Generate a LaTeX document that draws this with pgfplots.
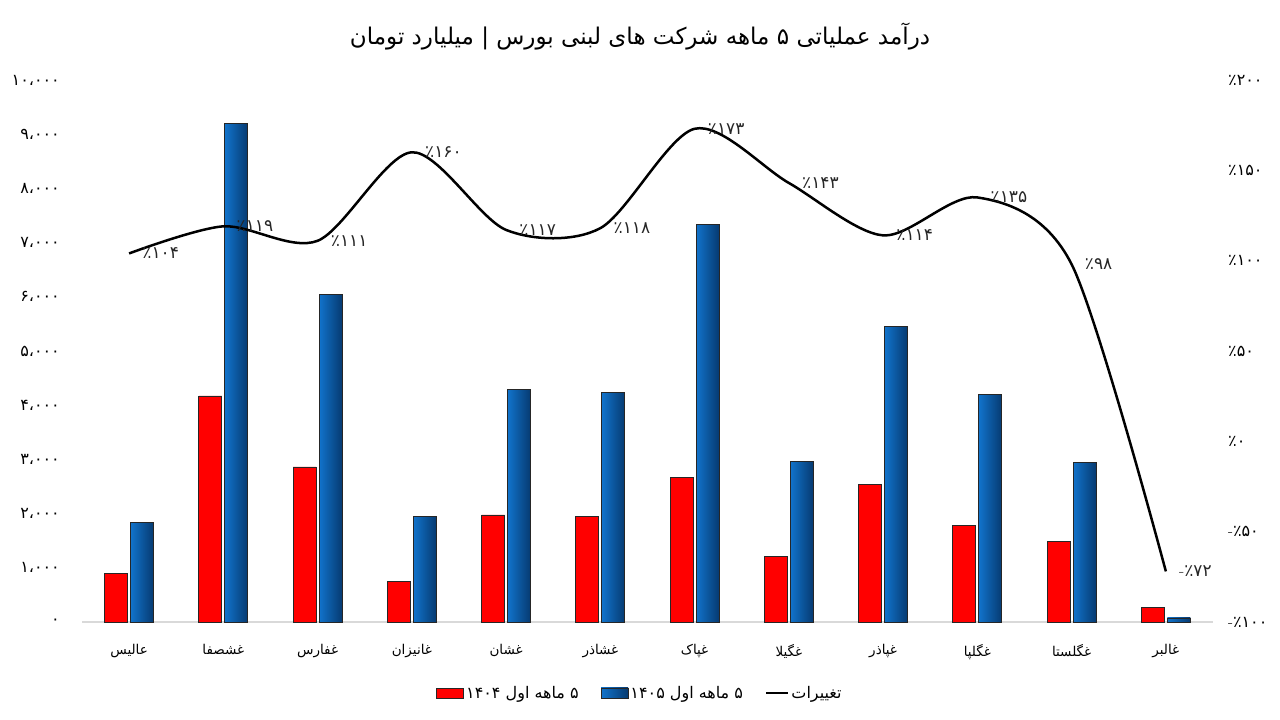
\documentclass[border=0pt]{standalone}
\usepackage{fontspec}
\usepackage{pgfplots}
\pgfplotsset{compat=1.18}
\TeXXeTstate=1
\newfontfamily\fa[Script=Arabic]{DejaVu Sans}
\definecolor{barred}{HTML}{FF0000}
\definecolor{blueL}{HTML}{1173CC}
\definecolor{blueD}{HTML}{063A70}
\definecolor{axgray}{HTML}{D9D9D9}
\pgfplotsset{bluebar/.style={forget plot, bar shift=13pt, left color=blueL, right color=blueD, draw=black!85, line width=0.8pt}}

\begin{document}
\begin{tikzpicture}
\path[use as bounding box] (0pt,0pt) rectangle (1280pt,720pt);

\node[font=\fa\fontsize{23}{26}\selectfont] at (640pt,683pt)
  {\beginR درآمد عملیاتی ۵ ماهه شرکت های لبنی بورس | میلیارد تومان\endR};

% bars, left axis
\begin{axis}[
    at={(82pt,98pt)}, anchor=south west,
    scale only axis,
    width=1131pt, height=542pt,
    xmin=-0.5, xmax=11.5,
    ymin=0, ymax=10000,
    scaled y ticks=false,
    axis x line*=bottom,
    axis y line*=left,
    x axis line style={axgray, line width=1.5pt},
    y axis line style={draw=none},
    major tick length=0pt,
    xtick={0,...,11},
    xticklabels={عالیس, غشصفا, غفارس, غانیزان, غشان, غشاذر, غپاک, غگیلا, غپاذر, غگلپا, غگلستا, غالبر},
    xticklabel style={font=\fa\fontsize{13.5}{16}\selectfont, anchor=north, inner sep=0pt, yshift=-22pt},
    ytick={0,1000,...,10000},
    yticklabels={۰, ۱،۰۰۰, ۲،۰۰۰, ۳،۰۰۰, ۴،۰۰۰, ۵،۰۰۰, ۶،۰۰۰, ۷،۰۰۰, ۸،۰۰۰, ۹،۰۰۰, ۱۰،۰۰۰},
    yticklabel style={font=\fa\fontsize{16}{18}\selectfont, anchor=east, inner sep=0pt, xshift=-22pt},
    ybar, bar width=23pt,
    legend columns=-1,
    legend style={at={(0.4934,-0.131)}, anchor=center, draw=none,
      font=\fa\fontsize{16}{18}\selectfont,
      /tikz/every even column/.append style={column sep=20pt}},
    clip=false,
]
% 5 ماهه اول 1404
\addplot[forget plot, bar shift=-13pt, fill=barred, draw=black!85, line width=0.8pt]
  coordinates {(0,890) (1,4170) (2,2860) (3,745) (4,1975) (5,1940)
               (6,2660) (7,1210) (8,2530) (9,1775) (10,1490) (11,265)};
% 5 ماهه اول 1405, one plot per bar so each bar gets its own gradient
\addplot[bluebar] coordinates {(0,1830)};
\addplot[bluebar] coordinates {(1,9190)};
\addplot[bluebar] coordinates {(2,6050)};
\addplot[bluebar] coordinates {(3,1940)};
\addplot[bluebar] coordinates {(4,4285)};
\addplot[bluebar] coordinates {(5,4240)};
\addplot[bluebar] coordinates {(6,7330)};
\addplot[bluebar] coordinates {(7,2970)};
\addplot[bluebar] coordinates {(8,5460)};
\addplot[bluebar] coordinates {(9,4190)};
\addplot[bluebar] coordinates {(10,2950)};
\addplot[bluebar] coordinates {(11,74)};

\addlegendimage{legend image code/.code={\draw[fill=barred, draw=black!85, line width=0.8pt] (0pt,-5pt) rectangle (27pt,5pt);}}
\addlegendentry{\beginR ۵ ماهه اول ۱۴۰۴\endR}
\addlegendimage{legend image code/.code={\draw[left color=blueL, right color=blueD, draw=black!85, line width=0.8pt] (0pt,-5pt) rectangle (27pt,5pt);}}
\addlegendentry{\beginR ۵ ماهه اول ۱۴۰۵\endR}
\addlegendimage{legend image code/.code={\draw[black, line width=2.5pt] (0pt,0pt) -- (22pt,0pt);}}
\addlegendentry{تغییرات}
\end{axis}

% change line, right axis
\begin{axis}[
    at={(82pt,98pt)}, anchor=south west,
    scale only axis,
    width=1131pt, height=542pt,
    xmin=-0.5, xmax=11.5,
    ymin=-100, ymax=200,
    axis x line=none,
    axis y line*=right,
    y axis line style={draw=none},
    major tick length=0pt,
    ytick={-100,-50,...,200},
    yticklabels={{{\rmfamily -}٪۱۰۰}, {{\rmfamily -}٪۵۰}, ٪۰, ٪۵۰, ٪۱۰۰, ٪۱۵۰, ٪۲۰۰},
    yticklabel style={font=\fa\fontsize{16}{18}\selectfont, anchor=west, inner sep=0pt, xshift=15pt},
    clip=false,
]
\addplot[black, line width=2.5pt, smooth, mark=none,
    point meta=explicit symbolic,
    nodes near coords,
    nodes near coords align={anchor=west},
    every node near coord/.append style={font=\fa\fontsize{17}{19}\selectfont, text=black!85, inner sep=0pt, xshift=12pt}]
  coordinates {(0,104) [٪۱۰۴] (1,119) [٪۱۱۹] (2,111) [٪۱۱۱] (3,160) [٪۱۶۰]
               (4,117) [٪۱۱۷] (5,118) [٪۱۱۸] (6,173) [٪۱۷۳] (7,143) [٪۱۴۳]
               (8,114) [٪۱۱۴] (9,135) [٪۱۳۵] (10,98) [٪۹۸] (11,-72) [{{\rmfamily -}٪۷۲}]};
\end{axis}
\end{tikzpicture}
\end{document}
